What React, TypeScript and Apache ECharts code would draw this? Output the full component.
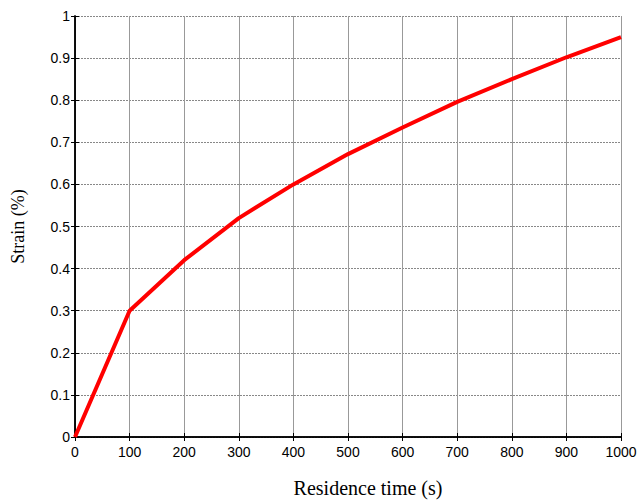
import React, { useEffect, useRef } from "react";
import * as echarts from "echarts";

const times = [0, 100, 200, 300, 400, 500, 600, 700, 800, 900, 1000];
const strain = [0, 0.3, 0.42, 0.52, 0.6, 0.672, 0.735, 0.796, 0.85, 0.902, 0.95];

export default function App() {
  const ref = useRef<HTMLDivElement>(null);
  useEffect(() => {
    const chart = echarts.init(ref.current!, null, { renderer: "svg" });
    const tickFont = { fontFamily: "'Liberation Sans'", fontSize: 14, color: "#000" };
    const boxAxisCommon = {
      axisLine: { show: true, lineStyle: { color: "#000", width: 1.5 } },
      axisTick: { show: true, inside: true, length: 4, lineStyle: { color: "#000" } },
    };
    chart.setOption({
      animation: false,
      backgroundColor: "#fff",
      grid: { left: 75, right: 17, top: 16, bottom: 63, containLabel: false, outerBoundsMode: "none" },
      xAxis: [
        {
          type: "value",
          min: 0,
          max: 1000,
          interval: 100,
          ...boxAxisCommon,
          axisLabel: { ...tickFont, margin: 8, formatter: (v: number) => String(v) },
          splitLine: { show: true, lineStyle: { color: "#999", width: 1 } },
          name: "Residence time (s)",
          nameLocation: "middle",
          nameGap: 41,
          nameTextStyle: { fontFamily: "'Liberation Serif'", fontSize: 20, color: "#000", padding: [0, 0, 0, 40] },
        },
        {
          type: "value",
          position: "top",
          min: 0,
          max: 1000,
          interval: 100,
          ...boxAxisCommon,
          axisLabel: { show: false },
          splitLine: { show: false },
        },
      ],
      yAxis: [
        {
          type: "value",
          min: 0,
          max: 1,
          interval: 0.1,
          ...boxAxisCommon,
          axisLabel: { ...tickFont, margin: 5 },
          splitLine: { show: true, lineStyle: { color: "#888", width: 1, type: [2, 1] } },
          name: "Strain (%)",
          nameLocation: "middle",
          nameGap: 48,
          nameTextStyle: { fontFamily: "'Liberation Serif'", fontSize: 18, color: "#000" },
        },
        {
          type: "value",
          position: "right",
          min: 0,
          max: 1,
          interval: 0.1,
          ...boxAxisCommon,
          axisLabel: { show: false },
          splitLine: { show: false },
        },
      ],
      series: [
        {
          type: "line",
          data: times.map((t, i) => [t, strain[i]]),
          symbol: "none",
          lineStyle: { color: "#ff0000", width: 4 },
          xAxisIndex: 0,
          yAxisIndex: 0,
        },
      ],
    });
    return () => chart.dispose();
  }, []);
  return <div ref={ref} style={{ width: 638, height: 500, position: "absolute", left: 0, top: 0 }} />;
}
